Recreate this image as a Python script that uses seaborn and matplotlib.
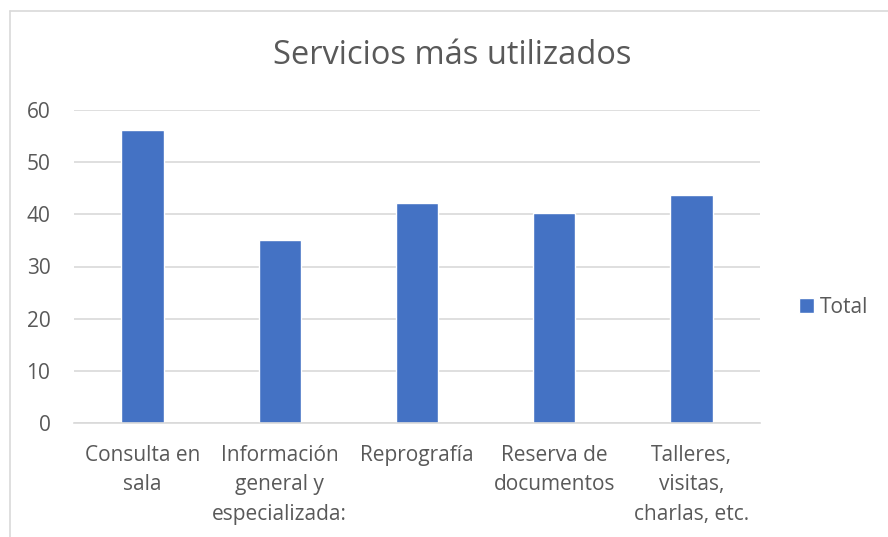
import matplotlib
matplotlib.use("Agg")
import matplotlib.pyplot as plt
import seaborn as sns
import pandas as pd
from matplotlib.lines import Line2D

categorias = ["Consulta en\nsala", "Información\ngeneral y\nespecializada:", "Reprografía",
              "Reserva de\ndocumentos", "Talleres,\nvisitas,\ncharlas, etc."]
valores = [56.1, 35.0, 42.1, 40.3, 43.8]
serie = ["Total"] * len(categorias)

df = pd.DataFrame({"categoria": categorias, "valor": valores, "serie": serie})

sns.set_theme(style="white")
plt.rcParams["font.family"] = ["Open Sans", "DejaVu Sans"]

TXT = "#595959"
GRID = "#d9d9d9"
BAR = "#4472C4"

fig = plt.figure(figsize=(8.88, 5.37), dpi=100)
ax = fig.add_axes([74/888, 114/537, (760-74)/888, (423-110)/537])

sns.barplot(data=df, x="categoria", y="valor", hue="serie", palette=[BAR],
            width=0.31, ax=ax, legend=True, saturation=1)

ax.set_ylim(0, 60)
ax.set_xlim(-0.5, 4.5)
ax.set_yticks(range(0, 61, 10))
ax.yaxis.grid(True, color=GRID, linewidth=1.2)
ax.set_axisbelow(True)
for s in ["top", "right", "left"]:
    ax.spines[s].set_visible(False)
ax.spines["bottom"].set_color(GRID)
ax.spines["bottom"].set_linewidth(1.2)
ax.tick_params(axis="both", length=0, colors=TXT, labelsize=15)
ax.tick_params(axis="y", pad=17)
ax.tick_params(axis="x", pad=15.5)
for lab in ax.get_xticklabels():
    lab.set_linespacing(1.55)
ax.set_xlabel("")
ax.set_ylabel("")

leg = ax.legend(loc="center left", bbox_to_anchor=(1.03, 0.37), frameon=False,
                fontsize=15, handlelength=0.7, handleheight=0.7, handletextpad=0.3,
                labelcolor=TXT)

fig.text(452/888, 1 - 55/537, "Servicios más utilizados", ha="center", va="center",
         fontsize=23.5, color=TXT)

# chart border (top and left)
fig.add_artist(Line2D([10/888, 10/888], [0, 1 - 11/537], color=GRID, linewidth=1.2,
                      transform=fig.transFigure))
fig.add_artist(Line2D([10/888, 1], [1 - 11/537, 1 - 11/537], color=GRID, linewidth=1.2,
                      transform=fig.transFigure))

fig.savefig("out.png", dpi=100)
